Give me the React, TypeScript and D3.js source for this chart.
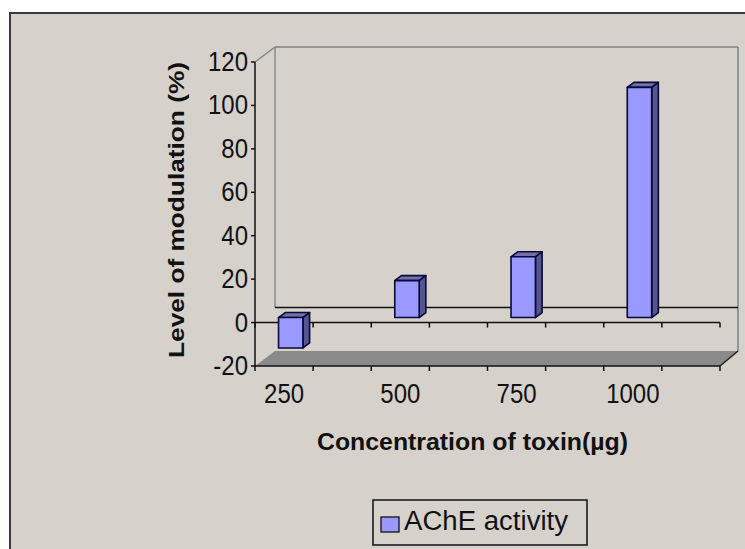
import React from "react";
import * as d3 from "d3";

const categories = ["250", "500", "750", "1000"];
const values = [-14, 17, 28, 106];
const yTicks = [-20, 0, 20, 40, 60, 80, 100, 120];
const seriesName = "AChE activity";
const xTitle = "Concentration of toxin(µg)";
const yTitle = "Level of modulation (%)";

const W = 745;
const H = 549;
const BG = "#D6D1CB";
const FONT = "'Liberation Sans', Arial, sans-serif";

export default function App() {
  const x0 = 255;
  const x1 = 720;
  const DX = 20;
  const DY = -15;
  const slots = d3.range(categories.length * 2);
  const xBand = d3.scaleBand<number>().domain(slots).range([x0, x1]).padding(0);
  const y = d3.scaleLinear().domain([-20, 120]).range([366, 62]);
  const yFloor = y(-20);
  const yTop = y(120);
  const y0 = y(0);

  const d1 = { x: DX / 3, y: DY / 3 };
  const d2 = { x: (2 * DX) / 3, y: (2 * DY) / 3 };
  const bw = xBand.bandwidth() * 0.42;

  const pts = (arr: [number, number][]) => arr.map((p) => p.join(",")).join(" ");

  const tickXs = d3.range(slots.length + 1).map((i) => x0 + i * xBand.bandwidth());

  return (
    <svg
      width={W}
      height={H}
      style={{ position: "absolute", left: 0, top: 0, display: "block" }}
      fontFamily={FONT}
    >
      <rect x={0} y={0} width={W} height={H} fill="#ffffff" />
      <rect x={10} y={13} width={W + 20} height={H + 20} fill={BG} stroke="#3a3a3a" strokeWidth={2} />

      {/* walls */}
      <line x1={x0} y1={yTop} x2={x0 + DX} y2={yTop + DY} stroke="#808080" strokeWidth={1.3} />
      <line x1={x0 + DX} y1={yTop + DY} x2={x1 + DX - 2} y2={yTop + DY} stroke="#808080" strokeWidth={1.3} />
      <line x1={x1 + DX - 2} y1={yTop + DY} x2={x1 + DX - 2} y2={yFloor + DY} stroke="#808080" strokeWidth={1.5} />
      <line x1={x0 + DX} y1={yTop + DY} x2={x0 + DX} y2={y0 + DY} stroke="#808080" strokeWidth={1.3} />
      {/* back zero line */}
      <line x1={x0 + DX} y1={y0 + DY} x2={x1 + DX - 2} y2={y0 + DY} stroke="#111" strokeWidth={1.5} />

      {/* floor */}
      <polygon
        points={pts([
          [x0, yFloor],
          [x0 + DX, yFloor + DY],
          [x1 + DX - 2, yFloor + DY],
          [x1, yFloor],
        ])}
        fill="#8A8A8A"
        stroke="none"
      />
      <line x1={x1} y1={yFloor} x2={x1 + DX - 2} y2={yFloor + DY} stroke="#222" strokeWidth={1.5} />

      {/* front zero line */}
      <line x1={x0} y1={y0} x2={x1} y2={y0} stroke="#111" strokeWidth={1.5} />
      {tickXs.map((tx, i) => (
        <line key={"tz" + i} x1={tx} y1={y0} x2={tx} y2={y0 + 5} stroke="#111" strokeWidth={1.5} />
      ))}

      {/* bars */}
      {values.map((v, i) => {
        const cx = (xBand(i * 2) as number) + xBand.bandwidth() / 2;
        const bx0 = cx - bw / 2;
        const bx1 = cx + bw / 2;
        const yt = Math.min(y(v), y0);
        const yb = Math.max(y(v), y0);
        return (
          <g key={"bar" + i} stroke="#08083A" strokeWidth={1.6} strokeLinejoin="round">
            <polygon
              points={pts([
                [bx0 + d1.x, yt + d1.y],
                [bx1 + d1.x, yt + d1.y],
                [bx1 + d2.x, yt + d2.y],
                [bx0 + d2.x, yt + d2.y],
              ])}
              fill="#7272A8"
            />
            <polygon
              points={pts([
                [bx1 + d1.x, yt + d1.y],
                [bx1 + d2.x, yt + d2.y],
                [bx1 + d2.x, yb + d2.y],
                [bx1 + d1.x, yb + d1.y],
              ])}
              fill="#55558F"
            />
            <rect x={bx0 + d1.x} y={yt + d1.y} width={bw} height={yb - yt} fill="#9999FF" />
          </g>
        );
      })}

      {/* floor front edge */}
      <line x1={x0} y1={yFloor} x2={x1} y2={yFloor} stroke="#111" strokeWidth={1.5} />
      {tickXs.map((tx, i) => (
        <line key={"tf" + i} x1={tx} y1={yFloor} x2={tx} y2={yFloor + 5} stroke="#111" strokeWidth={1.5} />
      ))}

      {/* y axis */}
      <line x1={x0} y1={yTop} x2={x0} y2={yFloor + 1} stroke="#111" strokeWidth={1.5} />
      {yTicks.map((t) => (
        <g key={"yt" + t}>
          <line x1={x0 - 4} y1={y(t)} x2={x0} y2={y(t)} stroke="#111" strokeWidth={1.5} />
          <text
            transform={`translate(${x0 - 7},${y(t) + 9}) scale(1,1.12)`}
            textAnchor="end"
            fontSize={24}
            fill="#111"
          >
            {t}
          </text>
        </g>
      ))}

      {/* x labels */}
      {categories.map((c, i) => (
        <text
          key={"xl" + i}
          transform={`translate(${(xBand(i * 2) as number) + xBand.bandwidth() / 2},403) scale(1,1.12)`}
          textAnchor="middle"
          fontSize={24}
          fill="#111"
        >
          {c}
        </text>
      ))}

      {/* titles */}
      <text
        transform="translate(317,450) scale(1,1.1)"
        fontSize={21}
        fontWeight="bold"
        fill="#111"
        textLength={311}
        lengthAdjust="spacingAndGlyphs"
      >
        {xTitle}
      </text>
      <text
        transform={`translate(184,358) rotate(-90) scale(1,1.08)`}
        fontSize={21}
        fontWeight="bold"
        fill="#111"
        textLength={296}
        lengthAdjust="spacingAndGlyphs"
      >
        {yTitle}
      </text>

      {/* legend */}
      <rect x={373} y={500} width={214} height={45} fill={BG} stroke="#111" strokeWidth={1.5} />
      <rect x={381} y={517} width={18} height={15} fill="#9999FF" stroke="#111" strokeWidth={1.3} />
      <text
        transform="translate(404,530) scale(1,1.08)"
        fontSize={25}
        fill="#111"
        textLength={164}
        lengthAdjust="spacingAndGlyphs"
      >
        {seriesName}
      </text>
    </svg>
  );
}
